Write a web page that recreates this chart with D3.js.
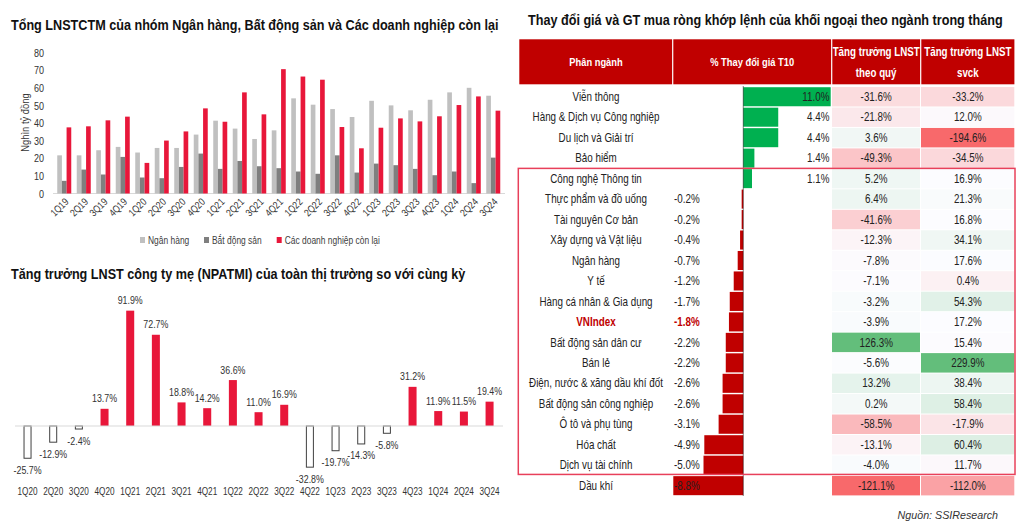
<!DOCTYPE html>
<html><head><meta charset="utf-8">
<script src="https://cdn.jsdelivr.net/npm/d3@7"></script>
<style>
html,body{margin:0;padding:0;background:#fff;}
svg{display:block;}
</style></head>
<body>
<svg id="chart" width="1024" height="528"></svg>
<script>
// ---------- DATA ----------
const quartersTop = ['1Q19','2Q19','3Q19','4Q19','1Q20','2Q20','3Q20','4Q20','1Q21','2Q21','3Q21','4Q21','1Q22','2Q22','3Q22','4Q22','1Q23','2Q23','3Q23','4Q23','1Q24','2Q24','3Q24'];
const bankValues = [21.7,21.7,24.6,26.5,23.3,25.9,25.9,33.5,41.4,36.9,31.0,35.9,54.1,50.5,48.0,43.5,52.7,50.1,47.3,53.3,57.5,60.1,55.6];
const realEstateValues = [7.2,13.6,10.8,20.8,9.1,8.7,15.1,22.7,14.0,18.5,15.5,14.4,12.5,11.2,21.7,11.9,17.0,16.1,14.0,10.4,12.5,5.9,20.4];
const otherValues = [37.6,38.2,41.6,43.7,17.4,30.1,35.3,48.4,40.8,57.5,45.0,70.7,66.5,64.7,37.8,25.7,37.4,42.7,41.0,43.9,50.3,55.2,47.1];
const seriesNames = ['Ngân hàng','Bắt động sản','Các doanh nghiệp còn lại'];
const yTicksTop = [0,10,20,30,40,50,60,70,80];

const quartersBottom = ['1Q20','2Q20','3Q20','4Q20','1Q21','2Q21','3Q21','4Q21','1Q22','2Q22','3Q22','4Q22','1Q23','2Q23','3Q23','4Q23','1Q24','2Q24','3Q24'];
const npatmiGrowth = [-25.7,-12.9,-2.4,13.7,91.9,72.7,18.8,14.2,36.6,11.0,16.9,-32.8,-19.7,-14.3,-5.8,31.2,11.9,11.5,19.4];

const sectors = ['Viễn thông','Hàng & Dịch vụ Công nghiệp','Du lịch và Giải trí','Bảo hiểm','Công nghệ Thông tin','Thực phẩm và đồ uống','Tài nguyên Cơ bản','Xây dựng và Vật liệu','Ngân hàng','Y tế','Hàng cá nhân & Gia dụng','VNIndex','Bất động sản dân cư','Bán lẻ','Điện, nước & xăng dầu khí đốt','Bất động sản công nghiệp','Ô tô và phụ tùng','Hóa chất','Dịch vụ tài chính','Dầu khí'];
const priceChange = [11.0,4.4,4.4,1.4,1.1,-0.2,-0.2,-0.4,-0.7,-1.2,-1.7,-1.8,-2.2,-2.2,-2.6,-2.6,-3.1,-4.9,-5.0,-8.8];
const qoqGrowth = [-31.6,-21.8,3.6,-49.3,5.2,6.4,-41.6,-12.3,-7.8,-7.1,-3.2,-3.9,126.3,-5.6,13.2,0.2,-58.5,-13.1,-4.0,-121.1];
const yoyGrowth = [-33.2,12.0,-194.6,-34.5,16.9,21.3,16.8,34.1,17.6,0.4,54.3,17.2,15.4,229.9,38.4,58.4,-17.9,60.4,11.7,-112.0];
const tableHeaders = [['Phân ngành'],['% Thay đổi giá T10'],['Tăng trưởng LNST','theo quý'],['Tăng trưởng LNST','svck']];
const highlightFrom = 'Công nghệ Thông tin', highlightTo = 'Dịch vụ tài chính';

// ---------- STYLE ----------
const FONT = '"Liberation Sans", Arial, sans-serif';
const NARROW = 0.82; // Arial Narrow look
const RED = '#E8173A', LIGHT = '#C0C0C0', DARK = '#7F7F7F';
const TITLE_SIZE = 15.4;
const svg = d3.select('#chart').style('font-family', FONT);
const fmt = v => v.toFixed(1) + '%';

// ---------- CHART 1 ----------
svg.append('text').attr('x', 11).attr('y', 30).attr('font-size', TITLE_SIZE).attr('font-weight', 'bold').attr('fill', '#111')
  .text('Tổng LNSTCTM của nhóm Ngân hàng, Bất động sản và Các doanh nghiệp còn lại');

const x0 = d3.scaleBand().domain(quartersTop).range([54.5, 503]).paddingInner(0.282).paddingOuter(0.141);
const x1 = d3.scaleBand().domain(seriesNames).range([0, x0.bandwidth()]);
const yTop = d3.scaleLinear().domain([0, 80]).range([193.5, 52.8]);
const colorTop = d3.scaleOrdinal().domain(seriesNames).range([LIGHT, DARK, RED]);
const topRows = quartersTop.map((q, i) => ({q, vals: [bankValues[i], realEstateValues[i], otherValues[i]]}));

const gTop = svg.append('g');
gTop.append('line').attr('x1', 53).attr('x2', 505).attr('y1', yTop(0)).attr('y2', yTop(0)).attr('stroke', '#D9D9D9').attr('stroke-width', 1);
const groups = gTop.selectAll('g.grp').data(topRows).join('g').attr('transform', d => `translate(${x0(d.q)},0)`);
groups.selectAll('rect').data(d => d.vals.map((v, k) => ({k: seriesNames[k], v}))).join('rect')
  .attr('x', d => x1(d.k)).attr('width', x1.bandwidth())
  .attr('y', d => yTop(d.v)).attr('height', d => yTop(0) - yTop(d.v))
  .attr('fill', d => colorTop(d.k));

const yAxisTop = d3.axisLeft(yTop).tickValues(yTicksTop).tickSize(0).tickPadding(0);
const gy = gTop.append('g').attr('transform', 'translate(44,0)').call(yAxisTop);
gy.select('.domain').remove();
gy.selectAll('text').attr('font-family', FONT).attr('font-size', 11).attr('fill', '#333');

const xAxisTop = d3.axisBottom(x0).tickSize(0).tickPadding(0);
const gx = gTop.append('g').attr('transform', `translate(0,${yTop(0)})`).call(xAxisTop);
gx.select('.domain').remove();
gx.selectAll('text').attr('font-family', FONT).attr('font-size', 10.3).attr('fill', '#333')
  .attr('text-anchor', 'end').attr('dy', 0).attr('y', 0)
  .attr('transform', 'translate(5,9) rotate(-45)');

gTop.append('text').attr('transform', 'translate(29,122.5) rotate(-90)').attr('text-anchor', 'middle')
  .attr('font-size', 11.5).attr('fill', '#333').text('Nghìn tỷ đồng');

const legendPos = [140, 204, 276.7];
const lg = gTop.selectAll('g.lg').data(seriesNames).join('g').attr('transform', (d, i) => `translate(${legendPos[i]},240)`);
lg.append('rect').attr('x', 0).attr('y', -3).attr('width', 5).attr('height', 6).attr('fill', d => colorTop(d));
lg.append('text').attr('x', 8).attr('y', 3.8).attr('font-size', 10.3).attr('fill', '#404040').text(d => d);

// ---------- CHART 2 ----------
svg.append('text').attr('x', 11).attr('y', 279).attr('font-size', TITLE_SIZE).attr('font-weight', 'bold').attr('fill', '#111')
  .text('Tăng trưởng LNST công ty mẹ (NPATMI) của toàn thị trường so với cùng kỳ');

const xb = d3.scaleBand().domain(quartersBottom).range([14.7, 502.4]).paddingInner(0.688).paddingOuter(0.344);
const yb = d3.scaleLinear().domain([-40, 100]).range([476.2, 300.5]);
const gBot = svg.append('g');
const bData = quartersBottom.map((q, i) => ({q, v: npatmiGrowth[i]}));
gBot.selectAll('rect').data(bData).join('rect')
  .attr('x', d => xb(d.q) + (d.v < 0 ? 0.5 : 0)).attr('width', d => xb.bandwidth() - (d.v < 0 ? 1 : 0))
  .attr('y', d => d.v >= 0 ? yb(d.v) : yb(0))
  .attr('height', d => Math.abs(yb(d.v) - yb(0)))
  .attr('fill', d => d.v >= 0 ? RED : '#fff')
  .attr('stroke', d => d.v >= 0 ? 'none' : '#404040').attr('stroke-width', 1);
gBot.append('line').attr('x1', 15).attr('x2', 503).attr('y1', yb(0)).attr('y2', yb(0)).attr('stroke', '#D9D9D9').attr('stroke-width', 1);
gBot.selectAll('text.val').data(bData).join('text').attr('class', 'val')
  .attr('x', d => xb(d.q) + xb.bandwidth() / 2)
  .attr('y', d => d.v >= 0 ? yb(d.v) - 6.5 : yb(d.v) + 15.5)
  .attr('text-anchor', 'middle').attr('font-size', 10.8).attr('fill', '#333').text(d => fmt(d.v));
const xAxisBot = d3.axisBottom(xb).tickSize(0).tickPadding(0);
const gxb = gBot.append('g').attr('transform', 'translate(0,495)').call(xAxisBot);
gxb.select('.domain').remove();
gxb.selectAll('text').attr('font-family', FONT).attr('font-size', 10).attr('fill', '#333').attr('dy', 0).attr('y', 0);

// ---------- TABLE ----------
svg.append('text').attr('x', 528).attr('y', 25).attr('font-size', TITLE_SIZE).attr('font-weight', 'bold').attr('fill', '#111')
  .text('Thay đổi giá và GT mua ròng khớp lệnh của khối ngoại theo ngành trong tháng');

const colEdges = [519.3, 672.7, 831.7, 920.7, 1015];
const gT = svg.append('g');
gT.selectAll('rect.hdr').data(tableHeaders).join('rect').attr('class', 'hdr')
  .attr('x', (d, i) => colEdges[i] + (i ? 0.6 : 0)).attr('width', (d, i) => colEdges[i + 1] - colEdges[i] - (i ? 0.6 : 0) - 0.6)
  .attr('y', 39.3).attr('height', 45).attr('fill', '#C00000');
gT.selectAll('text.hdr').data(tableHeaders).join('text').attr('class', 'hdr')
  .attr('x', (d, i) => (colEdges[i] + colEdges[i + 1]) / 2)
  .attr('y', d => d.length === 1 ? 66 : 56)
  .attr('text-anchor', 'middle').attr('font-size', d => d.length === 1 ? 11.4 : 11.9).attr('font-weight', 'bold').attr('fill', '#fff')
  .selectAll('tspan').data(d => d).join('tspan')
  .attr('x', function () { return d3.select(this.parentNode).attr('x'); })
  .attr('dy', (d, i) => i ? 21 : 0).text(d => d);

const rows = d3.scaleBand().domain(sectors).range([86.5, 86.5 + 20 * 20.47]);
const tData = sectors.map((s, i) => ({s, p: priceChange[i], q: qoqGrowth[i], y: yoyGrowth[i]}));

// Excel-like 3 colour scale (min / median / max)
function heatScale(vals) {
  const s = vals.slice().sort(d3.ascending);
  return d3.scaleLinear().domain([s[0], d3.median(s), s[s.length - 1]]).range(['#F8696B', '#FCFCFF', '#63BE7B']).clamp(true);
}
const cq = heatScale(qoqGrowth), cy = heatScale(yoyGrowth);
gT.selectAll('rect.cq').data(tData).join('rect').attr('class', 'cq')
  .attr('x', colEdges[2] + 0.3).attr('width', colEdges[3] - colEdges[2] - 1)
  .attr('y', d => rows(d.s) + 0.5).attr('height', rows.bandwidth() - 1).attr('fill', d => cq(d.q));
gT.selectAll('rect.cy').data(tData).join('rect').attr('class', 'cy')
  .attr('x', colEdges[3] + 0.3).attr('width', colEdges[4] - colEdges[3] - 1)
  .attr('y', d => rows(d.s) + 0.5).attr('height', rows.bandwidth() - 1).attr('fill', d => cy(d.y));

const xP = d3.scaleLinear().domain([-8.8, 11]).range([673.3, 830.7]);
const rowsBar = rows.copy().paddingInner(0.07).paddingOuter(0.035);
gT.selectAll('rect.pb').data(tData).join('rect').attr('class', 'pb')
  .attr('x', d => Math.min(xP(0), xP(d.p))).attr('width', d => Math.abs(xP(d.p) - xP(0)))
  .attr('y', d => rowsBar(d.s)).attr('height', rowsBar.bandwidth())
  .attr('fill', d => d.p >= 0 ? '#00B050' : '#C00000');
gT.append('line').attr('x1', xP(0)).attr('x2', xP(0)).attr('y1', 86.5).attr('y2', 496)
  .attr('stroke', '#000').attr('stroke-width', 1).attr('stroke-dasharray', '1,1');

const isIdx = d => d.s === 'VNIndex';
const rowText = sel => sel.attr('font-size', 12).attr('dy', '0.35em')
  .attr('y', d => rows(d.s) + rows.bandwidth() / 2);
gT.selectAll('text.sec').data(tData).join('text').attr('class', 'sec').call(rowText)
  .attr('x', 596).attr('text-anchor', 'middle')
  .attr('fill', d => isIdx(d) ? '#C00000' : '#222').attr('font-weight', d => isIdx(d) ? 'bold' : 'normal')
  .text(d => d.s);
gT.selectAll('text.pv').data(tData).join('text').attr('class', 'pv').call(rowText)
  .attr('x', d => d.p >= 0 ? 829.5 : 674).attr('text-anchor', d => d.p >= 0 ? 'end' : 'start')
  .attr('fill', d => isIdx(d) ? '#C00000' : '#222').attr('font-weight', d => isIdx(d) ? 'bold' : 'normal')
  .text(d => fmt(d.p));
gT.selectAll('text.qv').data(tData).join('text').attr('class', 'qv').call(rowText)
  .attr('x', (colEdges[2] + colEdges[3]) / 2).attr('text-anchor', 'middle').attr('fill', '#222').text(d => fmt(d.q));
gT.selectAll('text.yv').data(tData).join('text').attr('class', 'yv').call(rowText)
  .attr('x', (colEdges[3] + colEdges[4]) / 2).attr('text-anchor', 'middle').attr('fill', '#222').text(d => fmt(d.y));

gT.append('rect').attr('x', 518.3).attr('y', rows(highlightFrom)).attr('width', 1015 - 518.3)
  .attr('height', rows(highlightTo) + rows.bandwidth() - rows(highlightFrom) - 1)
  .attr('fill', 'none').attr('stroke', '#E8405A').attr('stroke-width', 1.5);

// condense all texts horizontally (Arial Narrow look)
svg.selectAll('text').each(function () {
  const t = d3.select(this);
  const x = +t.attr('x') || 0, y = +t.attr('y') || 0, tr = t.attr('transform') || '';
  t.attr('transform', `${tr} translate(${x},${y}) scale(${NARROW},1) translate(${-x},${-y})`);
});

svg.append('text').attr('x', 998).attr('y', 519).attr('text-anchor', 'end').attr('font-size', 10.7)
  .attr('font-style', 'italic').attr('fill', '#333').text('Nguồn: SSIResearch');
</script>
</body></html>
